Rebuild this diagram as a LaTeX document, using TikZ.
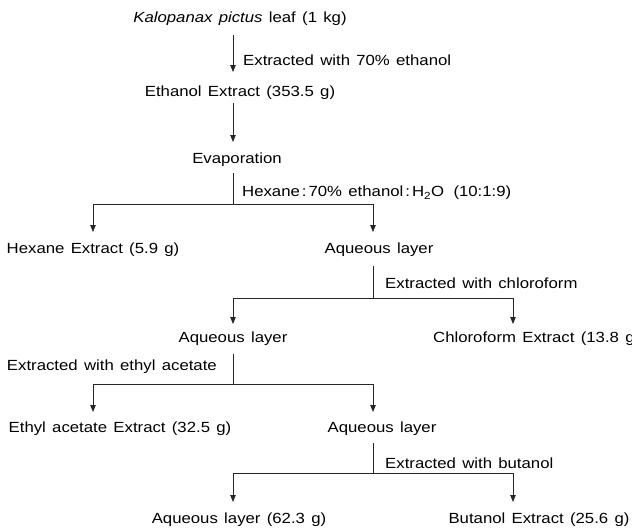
\documentclass[tikz,border=0pt]{standalone}
\usepackage{fontspec}
\setmainfont{Liberation Sans}[FakeStretch=1.14, WordSpace=1.35]
\usetikzlibrary{arrows.meta}
\begin{document}
\begin{tikzpicture}[x=1pt,y=-1pt,
  txt/.style={inner sep=0pt, font=\fontsize{14.7}{16}\selectfont},
  conn/.style={line width=0.8pt, draw=black!85},
  arr/.style={conn, -{Triangle[length=7pt,width=5.5pt]}}]
\useasboundingbox (0,0) rectangle (632,528);
\fill[white] (0,0) rectangle (632,528);
% nodes
\node[txt] (kp) at (240,19) {\textit{Kalopanax pictus} leaf (1 kg)};
\node[txt] (ee) at (240,93) {Ethanol Extract (353.5 g)};
\node[txt] (ev) at (237,160) {Evaporation};
\node[txt] (hx) at (93,250) {Hexane Extract (5.9 g)};
\node[txt] (aq1) at (379,250) {Aqueous layer};
\node[txt] (aq2) at (233,339) {Aqueous layer};
\node[txt,anchor=west] (ch) at (433,339) {Chloroform Extract (13.8 g)};
\node[txt] (ea) at (120,429) {Ethyl acetate Extract (32.5 g)};
\node[txt] (aq3) at (382,429) {Aqueous layer};
\node[txt] (aq4) at (239,520) {Aqueous layer (62.3 g)};
\node[txt] (bu) at (539,520) {Butanol Extract (25.6 g)};
% labels
\node[txt,anchor=west] (l1) at (243,60) {Extracted with 70\% ethanol};
\node[txt,anchor=west] (l2) at (242,193) {Hexane\hspace{2pt}:\hspace{2pt}70\% ethanol\hspace{2pt}:\hspace{2pt}H\textsubscript{2}O\hspace{3pt} (10:1:9)};
\node[txt,anchor=west] (l3) at (385,283) {Extracted with chloroform};
\node[txt,anchor=east] (l4) at (217,367) {Extracted with ethyl acetate};
\node[txt,anchor=west] (l5) at (385,463) {Extracted with butanol};
% junction coordinates
\coordinate (a1s) at (233,35);  \coordinate (a1e) at (233,72);
\coordinate (a2s) at (233,103); \coordinate (a2e) at (233,142);
\coordinate (s1t) at (233,173); \coordinate (s1m) at (233,204);
\coordinate (s1l) at (93,204);  \coordinate (s1r) at (373,204);
\coordinate (s1lt) at (93,232); \coordinate (s1rt) at (373,232);
\coordinate (s2t) at (373,266); \coordinate (s2m) at (373,298);
\coordinate (s2l) at (233,298); \coordinate (s2r) at (513,298);
\coordinate (s2lt) at (233,324); \coordinate (s2rt) at (513,324);
\coordinate (s3t) at (233,354); \coordinate (s3m) at (233,384);
\coordinate (s3l) at (93,384);  \coordinate (s3r) at (373,384);
\coordinate (s3lt) at (93,412); \coordinate (s3rt) at (373,412);
\coordinate (s4t) at (373,443); \coordinate (s4m) at (373,473);
\coordinate (s4l) at (233,473); \coordinate (s4r) at (513,473);
\coordinate (s4lt) at (233,502); \coordinate (s4rt) at (513,502);
% connectors
\draw[arr] (a1s) -- (a1e);
\draw[arr] (a2s) -- (a2e);
\draw[conn] (s1t) -- (s1m);
\draw[arr] (s1l) -- (s1lt);
\draw[arr] (s1r) -- (s1rt);
\draw[conn] (s1l) -- (s1r);
\draw[conn] (s2t) -- (s2m);
\draw[conn] (s2l) -- (s2r);
\draw[arr] (s2l) -- (s2lt);
\draw[arr] (s2r) -- (s2rt);
\draw[conn] (s3t) -- (s3m);
\draw[conn] (s3l) -- (s3r);
\draw[arr] (s3l) -- (s3lt);
\draw[arr] (s3r) -- (s3rt);
\draw[conn] (s4t) -- (s4m);
\draw[conn] (s4l) -- (s4r);
\draw[arr] (s4l) -- (s4lt);
\draw[arr] (s4r) -- (s4rt);
\end{tikzpicture}
\end{document}
